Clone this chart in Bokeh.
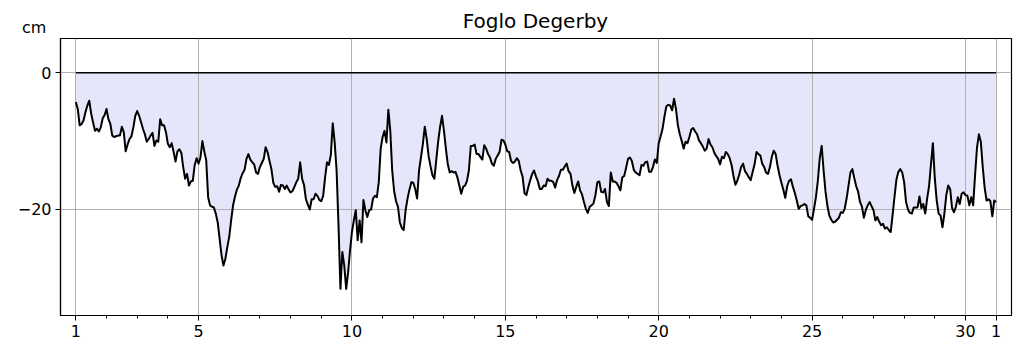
from bokeh.plotting import figure
from bokeh.models import FixedTicker, Range1d, Div
from bokeh.layouts import column
from bokeh.embed import file_html
from bokeh.resources import INLINE

title_text = "Foglo Degerby"
unit_label = "cm"
start_day = 1.0
step_days = 0.0625  # 1.5-hourly readings

sea_level_cm = [
    # day 1 - 3.1
    -4.3, -5.3, -7.7, -7.5, -7.0, -5.8, -4.8, -4.1, -6.0, -7.3, -8.5, -8.2,
    -8.6, -8.0, -6.7, -6.2, -5.3, -6.8, -7.5, -9.2, -9.4, -9.3, -9.2, -9.2,
    -7.9, -8.7, -11.5, -10.5, -9.7, -9.3, -8.0, -6.3, -5.6, -6.3,
    # day 3.1 - 5.7
    -7.2, -8.2, -9.0, -10.1, -9.7, -9.2, -8.8, -10.7, -9.9, -10.1, -6.8, -7.7,
    -7.7, -8.7, -10.4, -10.9, -10.3, -11.6, -13.0, -11.5, -11.2, -11.7, -13.8, -15.5,
    -14.8, -16.5, -15.9, -15.8, -13.5, -12.5, -13.3, -12.4, -10.0, -11.5, -12.8, -18.2,
    -19.4, -19.6, -19.7, -20.6, -21.9, -24.3,
    # day 5.8 - 8.3
    -26.7, -28.2, -27.2, -25.5, -24.0, -21.6, -19.4, -18.1, -17.1, -16.5, -15.4, -14.7,
    -14.2, -12.6, -11.9, -12.7, -13.1, -13.4, -14.6, -14.8, -13.8, -13.2, -12.6, -10.9,
    -11.6, -12.9, -14.1, -16.1, -16.7, -16.6, -17.4, -16.4, -16.5, -17.0, -16.5, -17.1,
    -17.5, -17.3, -16.7, -16.0, -15.5, -13.1,
    # day 8.4 - 10.9
    -15.5, -16.4, -18.5, -19.3, -20.0, -18.5, -18.5, -17.7, -18.0, -18.6, -18.8, -18.0,
    -15.3, -13.1, -13.5, -12.0, -7.4, -10.2, -14.3, -22.3, -31.6, -26.2, -28.2, -31.6,
    -29.2, -26.0, -23.3, -21.6, -20.1, -24.5, -21.6, -24.8, -18.6, -20.1, -21.1, -20.1,
    -20.0, -18.4, -18.0, -18.2, -16.0,
    # day 10.9 - 13.5
    -11.1, -9.4, -8.5, -10.2, -5.4, -8.5, -14.3, -17.3, -18.8, -19.6, -21.9, -22.7,
    -23.0, -20.1, -18.4, -17.1, -16.0, -16.1, -17.0, -18.4, -14.3, -12.4, -10.4, -7.9,
    -9.7, -12.2, -13.7, -15.0, -15.5, -12.7, -10.0, -7.9, -6.3, -8.5, -11.1, -13.4,
    -14.6, -14.4, -14.6, -14.5, -15.3, -16.5,
    # day 13.6 - 16.1
    -17.7, -16.7, -16.5, -15.8, -14.3, -10.7, -10.7, -10.5, -11.9, -11.9, -12.3, -12.7,
    -10.6, -11.1, -11.9, -12.4, -13.3, -13.6, -12.6, -12.1, -11.6, -9.8, -9.9, -10.5,
    -11.5, -11.6, -12.9, -13.2, -13.0, -12.5, -12.9, -14.3, -15.2, -17.6, -17.9, -16.7,
    -15.7, -14.8, -14.3, -15.2, -15.9, -17.0,
    # day 16.2 - 18.7
    -17.0, -16.5, -16.6, -15.5, -15.8, -15.8, -16.0, -16.8, -15.7, -15.1, -14.2, -14.2,
    -13.7, -13.3, -14.4, -14.8, -16.5, -17.6, -16.7, -15.9, -17.2, -17.8, -18.9, -19.9,
    -20.5, -19.6, -19.4, -19.1, -17.9, -16.0, -15.9, -17.4, -17.5, -17.0, -18.9, -19.5,
    -14.6, -15.9, -15.9, -16.1, -16.6,
    # day 18.8 - 21.3
    -17.2, -15.3, -15.1, -13.9, -12.6, -12.4, -12.9, -14.2, -14.6, -14.8, -15.0, -13.5,
    -13.6, -13.1, -13.0, -14.5, -14.5, -13.8, -12.7, -13.2, -10.3, -9.3, -8.2, -6.4,
    -4.9, -4.7, -4.8, -5.5, -3.8, -5.3, -7.7, -9.0, -10.0, -11.1, -10.1, -10.3,
    -9.4, -8.3, -8.1, -8.6, -9.0, -9.9,
    # day 21.4 - 23.9
    -10.3, -10.8, -11.4, -11.1, -9.7, -10.5, -10.9, -11.7, -12.2, -12.6, -13.4, -12.3,
    -12.5, -11.6, -11.9, -12.5, -13.5, -15.1, -16.4, -15.8, -14.9, -13.8, -13.3, -14.4,
    -14.8, -15.3, -15.7, -14.5, -13.4, -11.6, -11.9, -12.1, -13.3, -13.8, -14.6, -14.8,
    -13.8, -12.3, -11.4, -11.9, -13.6, -15.0,
    # day 24.0 - 26.5
    -16.1, -17.1, -18.3, -16.6, -15.8, -15.6, -16.7, -17.6, -18.7, -19.9, -19.5, -19.4,
    -19.2, -19.4, -21.0, -21.2, -21.5, -19.9, -18.2, -15.8, -12.5, -10.7, -14.3, -17.4,
    -19.5, -20.9, -21.5, -21.9, -21.8, -21.5, -21.2, -20.4, -20.5, -19.9, -18.4, -16.5,
    -14.6, -14.1, -15.4, -16.6, -17.4,
    # day 26.6 - 29.1
    -18.9, -19.6, -21.2, -20.1, -19.4, -18.9, -19.5, -20.1, -21.6, -21.1, -21.8, -22.3,
    -22.1, -22.8, -22.6, -23.0, -23.3, -20.8, -18.1, -15.6, -14.5, -14.1, -14.6, -16.0,
    -18.9, -20.0, -20.5, -20.6, -19.7, -19.7, -19.7, -18.1, -19.8, -19.2, -20.6, -18.4,
    -16.6, -13.4, -10.3, -15.5, -18.7, -20.6,
    # day 29.2 - 31
    -20.9, -22.6, -20.6, -17.9, -16.5, -17.0, -19.8, -20.4, -19.6, -18.2, -19.2, -17.7,
    -17.5, -17.9, -18.0, -19.4, -18.2, -19.4, -15.0, -11.0, -9.0, -10.1, -13.8, -16.8,
    -18.7, -18.5, -18.8, -21.0, -18.7, -18.9,
]

x_tick_positions = [1, 5, 10, 15, 20, 25, 30, 31]
x_tick_labels = ["1", "5", "10", "15", "20", "25", "30", "1"]
x_minor_positions = list(range(1, 32))
y_tick_positions = [0, -20]
y_tick_labels = ["0", "\u221220"]

days = [start_day + i * step_days for i in range(len(sea_level_cm))]
zeros = [0.0] * len(days)

FONT = "DejaVu Sans"
W = 1023
HEADER_H = 37
BORDER_L, BORDER_R = 60, 12

# ---- header strip: title centred over the plot frame, unit label at left ----
header_html = (
    f'<div style="position:relative;width:{W}px;height:{HEADER_H}px;'
    f"font-family:'{FONT}';color:#000;\">"
    f'<span style="position:absolute;left:22px;top:19.5px;font-size:16px;'
    f'line-height:16px;white-space:nowrap;">{unit_label}</span>'
    f'<span style="position:absolute;left:{BORDER_L}px;width:{W - BORDER_L - BORDER_R}px;'
    f'top:11px;font-size:20px;line-height:20px;text-align:center;'
    f'white-space:nowrap;">{title_text}</span>'
    "</div>"
)
header = Div(text=header_html, width=W, height=HEADER_H, margin=(0, 0, 0, 0))

# ---- main chart ----
p = figure(width=W, height=352 - HEADER_H, output_backend="svg", toolbar_location=None,
           x_range=Range1d(0.5, 31.5), y_range=Range1d(-35.5, 5.0),
           min_border_left=BORDER_L, min_border_right=BORDER_R, min_border_top=1,
           min_border_bottom=37, background_fill_color="white",
           border_fill_color="white", margin=(0, 0, 0, 0))

p.outline_line_color = "black"
p.outline_line_width = 1.2
p.outline_line_alpha = 1.0

p.varea(x=days, y1=zeros, y2=sea_level_cm, fill_color="#e6e6fa", level="underlay")
p.line(x=days, y=zeros, line_color="black", line_width=1.5)
p.line(x=days, y=sea_level_cm, line_color="black", line_width=2.0, line_join="round")

xa = p.xaxis[0]
xa.ticker = FixedTicker(ticks=x_tick_positions, minor_ticks=x_minor_positions)
xa.major_label_overrides = {t: l for t, l in zip(x_tick_positions, x_tick_labels)}
ya = p.yaxis[0]
ya.ticker = FixedTicker(ticks=y_tick_positions, minor_ticks=[])
ya.major_label_overrides = {t: l for t, l in zip(y_tick_positions, y_tick_labels)}

for ax in (xa, ya):
    ax.axis_line_color = "black"
    ax.axis_line_width = 1.2
    ax.major_tick_line_color = "black"
    ax.major_tick_out = 5
    ax.major_tick_in = 0
    ax.minor_tick_line_color = "black"
    ax.minor_tick_out = 3
    ax.minor_tick_in = 0
    ax.major_label_text_font = FONT
    ax.major_label_text_font_size = "16px"
    ax.major_label_text_color = "black"
    ax.major_label_standoff = 4

p.xgrid.ticker = FixedTicker(ticks=x_tick_positions)
p.ygrid.ticker = FixedTicker(ticks=y_tick_positions)
for g in (p.xgrid, p.ygrid):
    g.grid_line_color = "#b0b0b0"
    g.grid_line_width = 1.0

layout = column(header, p, spacing=0)
open("out.html", "w").write(file_html(layout, INLINE))
